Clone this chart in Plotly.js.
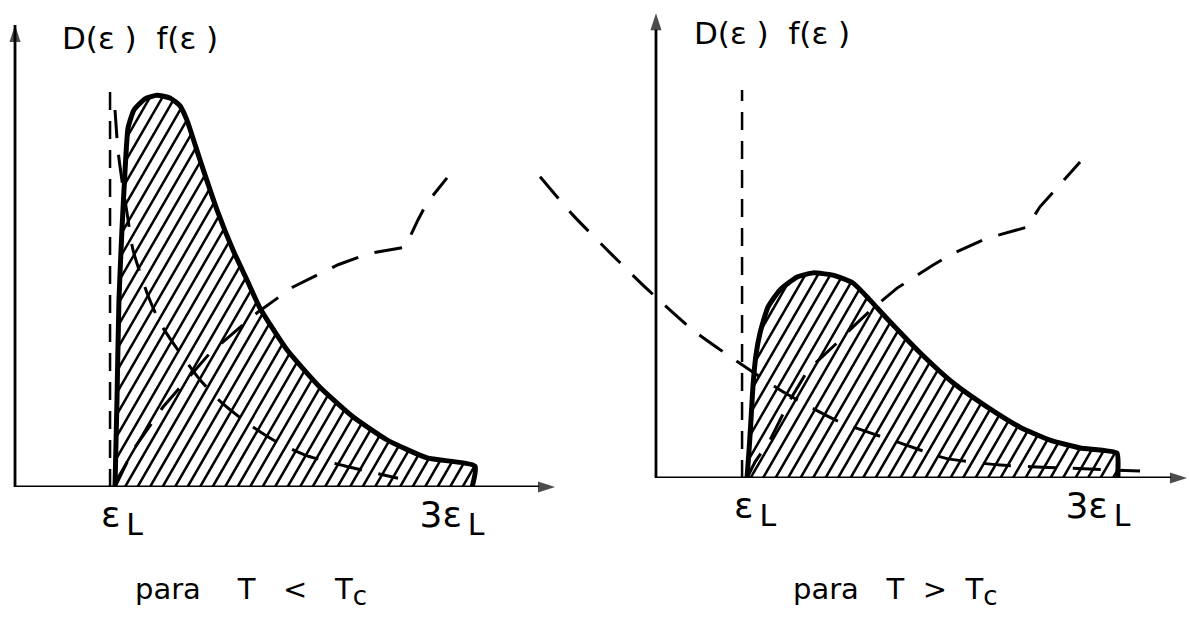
<!DOCTYPE html>
<html>
<head>
<meta charset="utf-8">
<script src="https://cdn.plot.ly/plotly-3.0.1.min.js"></script>
<style>
  html, body { margin: 0; padding: 0; background: #fff; }
  #chart { width: 1189px; height: 629px; }
</style>
</head>
<body>
<div id="chart"></div>
<script>
// Energies in units of the band edge eps_L, heights in arbitrary units.

// T < Tc : product D(eps) f(eps), density of states D(eps), occupation f(eps)
const leftProdX = [1.000, 1.012, 1.024, 1.042, 1.061, 1.079, 1.115, 1.182, 1.255, 1.333, 1.394, 1.436, 1.515, 1.618, 1.715, 1.800, 1.879, 2.042, 2.242, 2.442, 2.648, 2.891, 3.182, 3.164];
const leftProdY = [0.00, 1.88, 4.05, 5.56, 6.86, 7.77, 8.16, 8.40, 8.48, 8.42, 8.25, 7.94, 7.08, 6.00, 5.13, 4.48, 3.87, 2.97, 2.16, 1.52, 1.02, 0.63, 0.45, 0.00];
const leftDosX = [1.000, 1.109, 1.291, 1.576, 1.861, 2.079, 2.352, 2.545, 2.758, 2.836, 2.891, 3.012];
const leftDosY = [0.00, 0.80, 1.73, 2.90, 3.77, 4.33, 4.81, 5.06, 5.19, 5.78, 6.15, 6.69];
const leftOccX = [1.000, 1.018, 1.048, 1.073, 1.109, 1.194, 1.273, 1.394, 1.515, 1.648, 1.818, 1.982, 2.152, 2.321, 2.515, 2.715];
const leftOccY = [8.16, 7.29, 6.49, 5.93, 5.13, 4.20, 3.55, 2.90, 2.32, 1.82, 1.34, 0.97, 0.69, 0.52, 0.35, 0.19];
const leftEdgeX = 0.97, leftEdgeTop = 8.74;

// T > Tc
const rightProdX = [1.000, 1.012, 1.023, 1.035, 1.052, 1.076, 1.122, 1.192, 1.292, 1.385, 1.501, 1.618, 1.717, 1.834, 2.009, 2.201, 2.399, 2.592, 2.767, 2.942, 3.157, 3.163, 3.163];
const rightProdY = [0.00, 0.61, 1.26, 2.01, 2.66, 3.14, 3.70, 4.07, 4.35, 4.44, 4.39, 4.22, 3.85, 3.38, 2.71, 2.06, 1.54, 1.10, 0.82, 0.65, 0.54, 0.17, 0.00];
const rightDosX = [1.000, 1.047, 1.134, 1.251, 1.356, 1.501, 1.618, 1.735, 1.875, 2.085, 2.195, 2.399, 2.633, 2.708, 2.942];
const rightDosY = [0.00, 0.35, 0.82, 1.69, 2.34, 2.84, 3.27, 3.68, 4.11, 4.61, 4.85, 5.19, 5.43, 5.87, 6.84];
const rightOccX = [-0.207, -0.015, 0.213, 0.423, 0.685, 0.971, 1.222, 1.542, 1.892, 2.155, 2.475, 2.825, 3.292];
const rightOccY = [6.52, 5.69, 4.83, 4.07, 3.20, 2.45, 1.84, 1.21, 0.76, 0.43, 0.28, 0.22, 0.15];
const rightEdgeX = 0.971, rightEdgeTop = 8.40;

// Axis labels
const tickVals = [1, 3];
const tickText = ['ε<sub><span style="font-size:30px">\u2009L</span></sub>', '3ε<sub><span style="font-size:30px">\u2009L</span></sub>'];
const yLabel = 'D(ε )\u00a0 f(ε )';
const sub = '<sub><span style="font-size:26px">c</span></sub>';
const captions = ['para\u00a0\u00a0\u00a0 T\u00a0\u00a0 &lt;\u00a0\u00a0 T' + sub, 'para\u00a0\u00a0 T\u00a0 &gt;\u00a0 T' + sub];

// Axis frames: [origin x, x-axis end, y-axis end]
const leftFrame = [0.394, 3.667, 10.0];
const rightFrame = [0.469, 3.566, 10.06];

const FONT = 'DejaVu Sans, sans-serif';
const INK = '#000';

// Diagonal hatching of a closed region; sx, sy are pixels per data unit
function hatch(xs, ys, sx, sy, step, deg) {
  const k = 1 / Math.tan(deg * Math.PI / 180);
  const P = xs.map((x, i) => [x * sx, ys[i] * sy]);
  const n = P.length;
  const u = P.map(p => p[0] - k * p[1]);
  const umin = Math.min(...u), umax = Math.max(...u);
  const hx = [], hy = [];
  for (let c = Math.ceil(umin / step) * step; c <= umax; c += step) {
    const hits = [];
    for (let i = 0; i < n; i++) {
      const j = (i + 1) % n;
      const a = u[i] - c, b = u[j] - c;
      if ((a < 0 && b >= 0) || (a >= 0 && b < 0)) {
        const t = a / (a - b);
        hits.push([P[i][0] + t * (P[j][0] - P[i][0]), P[i][1] + t * (P[j][1] - P[i][1])]);
      }
    }
    hits.sort((p, q) => p[1] - q[1]);
    for (let m = 0; m + 1 < hits.length; m += 2) {
      hx.push(hits[m][0] / sx, hits[m + 1][0] / sx, null);
      hy.push(hits[m][1] / sy, hits[m + 1][1] / sy, null);
    }
  }
  return { x: hx, y: hy };
}

// Axis line with an arrowhead at its far end
function axisLine(xa, ya, xs, ys) {
  return {
    x: xs, y: ys, xaxis: xa, yaxis: ya, mode: 'lines+markers', cliponaxis: false,
    line: { color: INK, width: 2.8 },
    marker: { symbol: ['circle', 'arrow'], size: [0, 18], angleref: 'previous', color: INK, line: { width: 0 } },
    hoverinfo: 'skip'
  };
}

function panel(xa, ya, frame, prodX, prodY, dosX, dosY, occX, occY, edgeX, edgeTop, sx) {
  const h = hatch(prodX, prodY, sx, 46.2, 12.5, 60);
  return [
    axisLine(xa, ya, [frame[0], frame[0]], [0, frame[2]]),
    axisLine(xa, ya, [frame[0], frame[1]], [0, 0]),
    { x: h.x, y: h.y, xaxis: xa, yaxis: ya, mode: 'lines', line: { color: INK, width: 2.5 }, hoverinfo: 'skip' },
    { x: [edgeX, edgeX], y: [0, edgeTop], xaxis: xa, yaxis: ya, mode: 'lines', line: { color: INK, width: 2.5, dash: '18px,11px' }, hoverinfo: 'skip' },
    { x: dosX, y: dosY, xaxis: xa, yaxis: ya, mode: 'lines', line: { color: INK, width: 3, dash: '28px,17px' }, hoverinfo: 'skip' },
    { x: occX, y: occY, xaxis: xa, yaxis: ya, mode: 'lines', line: { color: INK, width: 3, dash: '28px,17px', shape: 'spline', smoothing: 0.6 }, hoverinfo: 'skip' },
    { x: prodX, y: prodY, xaxis: xa, yaxis: ya, mode: 'lines', line: { color: INK, width: 5, shape: 'spline', smoothing: 0.5 }, hoverinfo: 'skip' }
  ];
}

const data = [].concat(
  panel('x', 'y', leftFrame, leftProdX, leftProdY, leftDosX, leftDosY, leftOccX, leftOccY, leftEdgeX, leftEdgeTop, 165),
  panel('x2', 'y2', rightFrame, rightProdX, rightProdY, rightDosX, rightDosY, rightOccX, rightOccY, rightEdgeX, rightEdgeTop, 171.5)
);

function xAxis(domain, range, shift) {
  return {
    domain: domain, range: range, showgrid: false, zeroline: false, showline: false,
    ticks: '', tickmode: 'array', tickvals: tickVals, ticktext: tickText,
    tickfont: { family: FONT, size: 36, color: INK }, ticklabelshift: shift, ticklabelstandoff: 3,
    fixedrange: true
  };
}
function yAxis(domain, range, anchor) {
  return {
    domain: domain, range: range, anchor: anchor, showgrid: false, zeroline: false,
    showline: false, showticklabels: false, ticks: '', fixedrange: true
  };
}

const layout = {
  width: 1189, height: 629,
  margin: { l: 0, r: 0, t: 0, b: 0 },
  paper_bgcolor: '#fff', plot_bgcolor: 'rgba(0,0,0,0)',
  showlegend: false,
  xaxis: Object.assign(xAxis([0.0042, 0.4727], [0.3333, 3.7091], 7), { anchor: 'y' }),
  yaxis: yAxis([0.2258, 0.9603], [0, 10], 'x'),
  xaxis2: Object.assign(xAxis([0.45, 1], [-0.2362, 3.5773], 8), { anchor: 'y2' }),
  yaxis2: yAxis([0.2401, 0.9793], [0, 10.065], 'x2'),
  annotations: [
    { xref: 'x', yref: 'y', x: 1.15, y: 9.72, text: yLabel, showarrow: false, xanchor: 'center', yanchor: 'middle', font: { family: FONT, size: 31, color: INK } },
    { xref: 'x2', yref: 'y2', x: 1.146, y: 9.63, text: yLabel, showarrow: false, xanchor: 'center', yanchor: 'middle', font: { family: FONT, size: 31, color: INK } },
    { xref: 'paper', yref: 'paper', x: 0.211, y: 0.06, text: captions[0], showarrow: false, xanchor: 'center', yanchor: 'middle', font: { family: FONT, size: 29, color: INK } },
    { xref: 'paper', yref: 'paper', x: 0.7527, y: 0.06, text: captions[1], showarrow: false, xanchor: 'center', yanchor: 'middle', font: { family: FONT, size: 29, color: INK } }
  ]
};

Plotly.newPlot('chart', data, layout, { staticPlot: true, displayModeBar: false });
</script>
</body>
</html>
